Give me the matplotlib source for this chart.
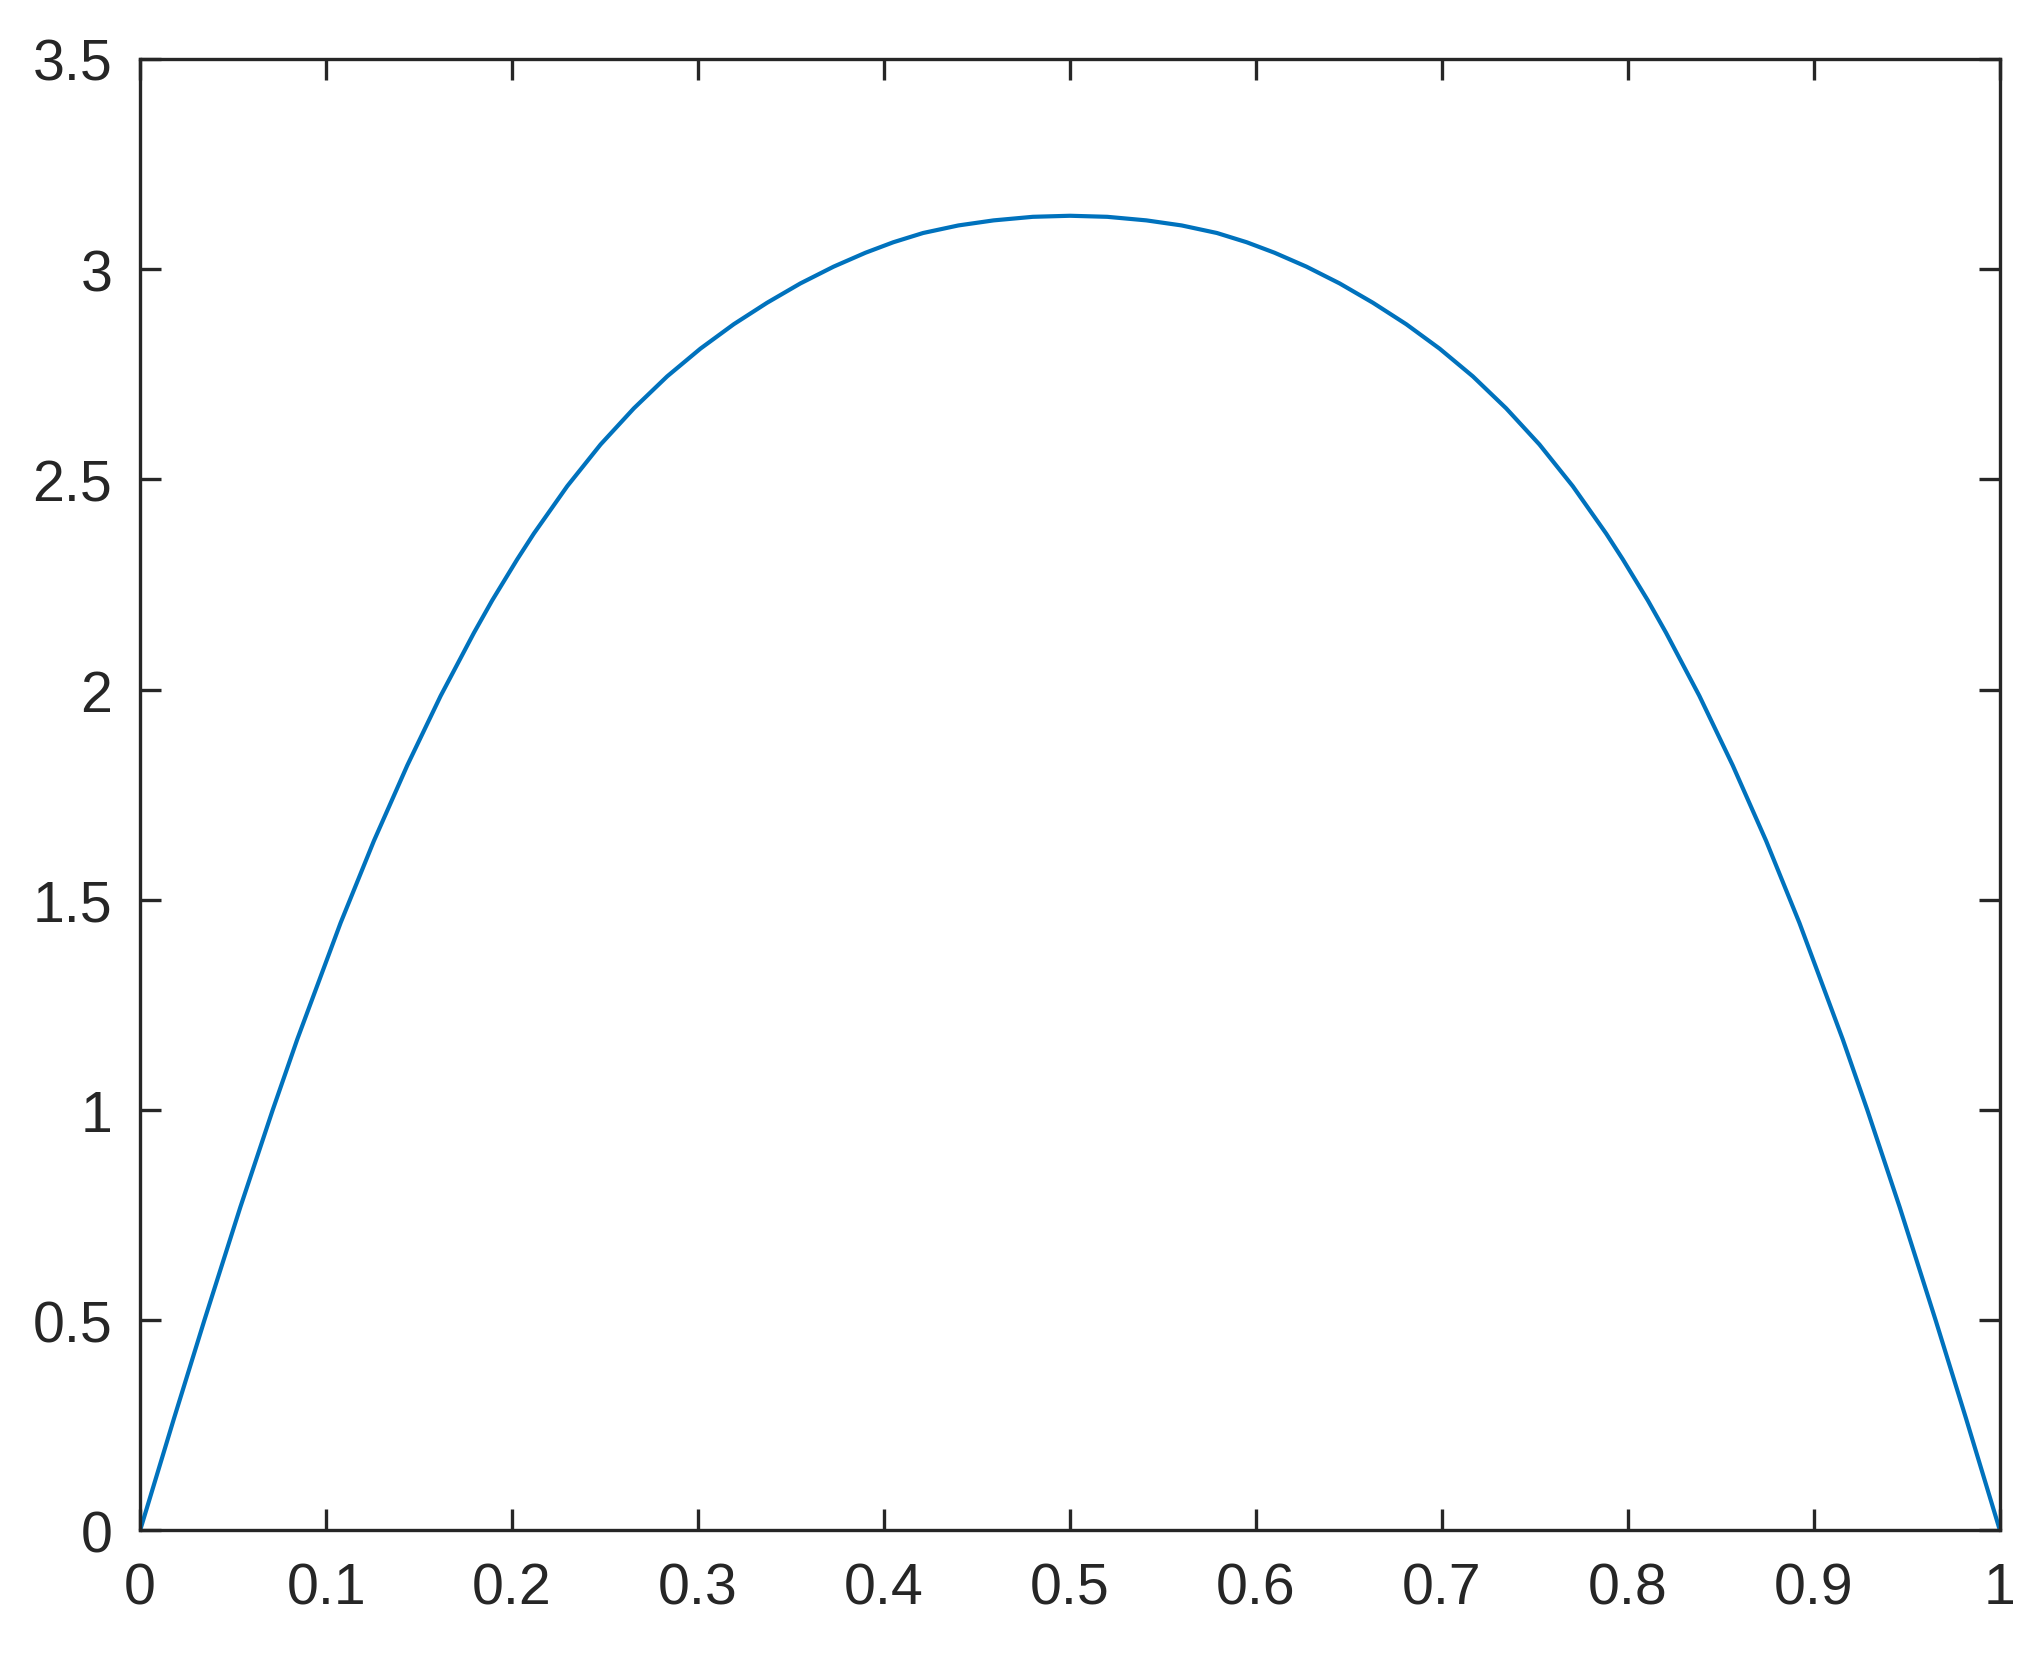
import matplotlib.pyplot as plt

x_left = [0.0, 0.0182, 0.0345, 0.0539, 0.0713, 0.0845, 0.1078, 0.1257, 0.1437,
          0.1616, 0.1795, 0.1893, 0.2028, 0.2117, 0.2297, 0.2476, 0.2655, 0.2834,
          0.3013, 0.3192, 0.3371, 0.3550, 0.3729, 0.3900, 0.4050, 0.4210, 0.4400,
          0.4589, 0.4800]
y_left = [0.0, 0.266, 0.499, 0.769, 1.000, 1.168, 1.445, 1.640, 1.820,
          1.985, 2.135, 2.212, 2.310, 2.371, 2.484, 2.583, 2.669, 2.745,
          2.811, 2.869, 2.920, 2.966, 3.006, 3.039, 3.064, 3.086, 3.104,
          3.116, 3.1245]
x_peak = 0.5
y_peak = 3.127

x = x_left + [x_peak] + [1 - v for v in reversed(x_left)]
y = y_left + [y_peak] + list(reversed(y_left))

xticks = [0, 0.1, 0.2, 0.3, 0.4, 0.5, 0.6, 0.7, 0.8, 0.9, 1]
xticklabels = ['0', '0.1', '0.2', '0.3', '0.4', '0.5', '0.6', '0.7', '0.8', '0.9', '1']
yticks = [0, 0.5, 1, 1.5, 2, 2.5, 3, 3.5]
yticklabels = ['0', '0.5', '1', '1.5', '2', '2.5', '3', '3.5']

axcol = '#262626'
plt.rcParams['font.family'] = ['Liberation Sans', 'DejaVu Sans']

fig = plt.figure(figsize=(10.21, 8.325), dpi=200)
ax = fig.add_axes([0.0686, 0.0802, 0.9108, 0.8838])
ax.plot(x, y, color='#0072BD', lw=1.5, solid_joinstyle='round')

ax.set_xlim(0, 1)
ax.set_ylim(0, 3.5)
ax.set_xticks(xticks)
ax.set_xticklabels(xticklabels)
ax.set_yticks(yticks)
ax.set_yticklabels(yticklabels)

for s in ax.spines.values():
    s.set_color(axcol)
    s.set_linewidth(1.2)
ax.tick_params(direction='in', top=True, right=True, length=7.5, width=1.2,
               colors=axcol, labelsize=20.6)
ax.tick_params(axis='x', pad=11)
ax.tick_params(axis='y', pad=10)

fig.savefig('out.png', dpi=200, facecolor='white')
